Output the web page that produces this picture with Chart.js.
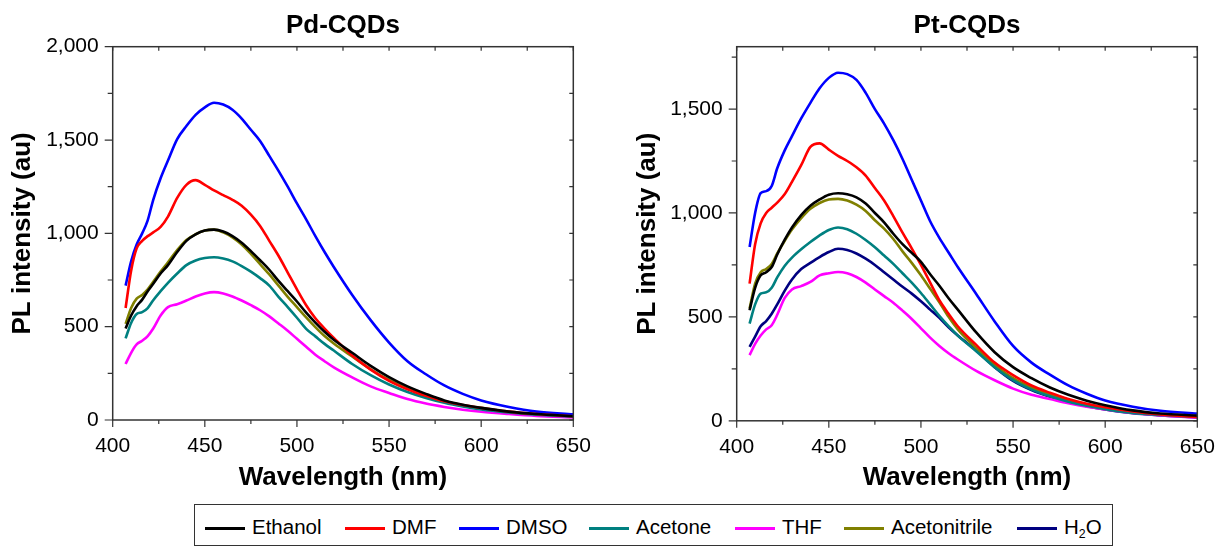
<!DOCTYPE html>
<html>
<head>
<meta charset="utf-8">
<script src="https://cdn.jsdelivr.net/npm/chart.js@4.4.1/dist/chart.umd.min.js"></script>
<style>
  html, body { margin: 0; padding: 0; background: #fff; }
  body { width: 1217px; height: 546px; position: relative; overflow: hidden; font-family: 'Liberation Sans', Arial, sans-serif; }
  #c1 { position: absolute; left: 0; top: 0; }
  #c2 { position: absolute; left: 608px; top: 0; }
  #legend { position: absolute; left: 194px; top: 504px; width: 919px; height: 42px; border: 1.3px solid #333; box-sizing: border-box; }
  .lg-line { position: absolute; height: 3px; width: 40px; }
  .lg-text { position: absolute; font-size: 20.5px; line-height: 1; color: #000; white-space: nowrap; }
  .lg-text sub { font-size: 0.6em; vertical-align: -0.35em; line-height: 0; }
</style>
</head>
<body>
<canvas id="c1" width="600" height="500"></canvas>
<canvas id="c2" width="609" height="500"></canvas>
<div id="legend"></div>
<script>
// ---------- DATA ----------
const wavelengths = [407,410,413,416,419,422,426,430,435,440,445,450,455,460,465,470,475,480,485,490,495,500,505,510,515,520,530,540,550,560,570,580,590,600,615,630,650];

const seriesNames  = ['Ethanol','DMF','DMSO','Acetone','THF','Acetonitrile','H2O'];
const seriesColors = ['#000000','#ff0000','#0000ff','#008080','#ff00ff','#808000','#000080'];

const xTickValues   = [400,450,500,550,600,650];
const pdYTickValues = [0,500,1000,1500,2000];
const ptYTickValues = [0,500,1000,1500];

// Pd-CQDs
const pdEthanol      = [490,560,610,645,690,730,785,830,900,960, 995,1015,1020,1010,985,950,905,856,805,745, 690,635,575,522,473,430,360,290,230,180, 140,105,82,65,45,32,20];
const pdDMF          = [600,800,920,960,985,1005,1035,1090,1190,1260, 1285,1260,1230,1205,1180,1148,1100,1040,960,880, 790,700,615,545,490,440,345,270,210,165, 130,100,80,65,45,32,20];
const pdDMSO         = [720,850,940,1000,1070,1180,1295,1390,1505,1575, 1635,1675,1700,1690,1662,1615,1555,1495,1415,1335, 1250,1160,1075,985,900,820,670,535,415,315, 245,185,140,105,70,45,30];
const pdAcetone      = [437,520,568,578,600,642,690,735,785,830, 855,868,872,865,850,825,795,760,720,660, 605,548,488,448,408,372,300,240,190,150, 118,92,72,56,40,28,18];
const pdTHF          = [300,360,405,425,450,490,560,605,620,640, 662,678,685,678,662,640,615,588,555,517, 478,435,392,350,315,282,228,180,145,112, 88,70,55,44,32,22,14];
const pdAcetonitrile = [515,600,650,670,700,740,795,845,910,965, 995,1015,1020,1005,978,940,890,835,780,720, 660,605,550,498,450,410,340,272,215,168, 130,100,78,60,42,30,20];

// Pt-CQDs
const ptEthanol      = [532,640,700,715,740,800,870,930,990,1035, 1065,1088,1095,1090,1075,1045,1000,955,900,850, 808,765,705,650,590,535,425,330,258,205, 160,125,97,75,50,35,25];
const ptDMF          = [660,850,950,1000,1025,1050,1090,1150,1230,1318, 1335,1305,1275,1250,1220,1180,1120,1060,985,905, 830,750,665,580,515,455,365,280,220,170, 135,105,82,65,45,30,18];
const ptDMSO         = [836,1000,1095,1105,1130,1215,1300,1370,1455,1530, 1600,1650,1675,1668,1640,1578,1500,1430,1350,1260, 1160,1060,960,880,810,740,610,478,360,280, 222,170,130,98,68,48,35];
const ptAcetone      = [468,560,612,618,640,690,745,785,825,860, 892,918,930,922,900,870,835,795,755,710, 665,615,560,505,455,410,335,258,196,150, 118,92,72,56,38,28,18];
const ptTHF          = [316,370,410,440,460,510,590,632,648,668, 700,710,716,710,692,665,632,600,568,530, 490,445,400,360,325,295,240,195,155,125, 105,85,68,55,38,26,16];
const ptAcetonitrile = [540,660,715,730,755,805,865,920,975,1020, 1048,1065,1068,1060,1040,1010,965,925,875,815, 760,700,635,570,500,440,350,270,205,160, 126,98,78,62,42,30,20];
const ptH2O          = [356,405,455,480,515,560,625,680,730,760, 788,812,828,822,805,780,750,715,680,645, 612,575,535,495,450,410,338,258,192,148, 116,90,70,54,36,26,16];

const pdSeries = [pdEthanol, pdDMF, pdDMSO, pdAcetone, pdTHF, pdAcetonitrile];
const ptSeries = [ptEthanol, ptDMF, ptDMSO, ptAcetone, ptTHF, ptAcetonitrile, ptH2O];

// ---------- RENDER ----------
Chart.defaults.font.family = "'Liberation Sans', Arial, sans-serif";
Chart.defaults.color = '#000';

const framePlugin = {
  id: 'frame',
  afterDraw(chart, args, opts) {
    const {ctx, chartArea: a} = chart;
    const x = chart.scales.x, y = chart.scales.y;
    ctx.save();
    ctx.strokeStyle = '#333';
    ctx.lineWidth = 1.5;
    ctx.strokeRect(a.left, a.top, a.right - a.left, a.bottom - a.top);
    ctx.lineWidth = 1.2;
    ctx.beginPath();
    for (let v = x.min; v <= x.max + 1e-6; v += opts.xMinor) {
      const px = x.getPixelForValue(v);
      const major = Math.abs(v % opts.xMajor) < 1e-6;
      ctx.moveTo(px, a.bottom); ctx.lineTo(px, a.bottom + (major ? 7 : 4));
      ctx.moveTo(px, a.top); ctx.lineTo(px, a.top + 4);
    }
    for (let v = y.min; v <= y.max + 1e-6; v += opts.yMinor) {
      const py = y.getPixelForValue(v);
      const major = Math.abs(v % opts.yMajor) < 1e-6;
      ctx.moveTo(a.left - (major ? 8 : 5), py); ctx.lineTo(a.left, py);
      ctx.moveTo(a.right, py); ctx.lineTo(a.right - 4, py);
    }
    ctx.stroke();
    ctx.restore();
  }
};

function fmt(v) { return Number(v).toLocaleString('en-US'); }

function makeChart(canvasId, title, series, yMax, yTicks, geo) {
  const datasets = series.map((arr, i) => ({
    label: seriesNames[i],
    data: wavelengths.map((w, k) => ({x: w, y: arr[k]})),
    borderColor: seriesColors[i],
    backgroundColor: seriesColors[i],
    borderWidth: 2.6,
    pointRadius: 0,
    cubicInterpolationMode: 'monotone',
    fill: false
  }));
  return new Chart(document.getElementById(canvasId), {
    type: 'line',
    data: { datasets },
    plugins: [framePlugin],
    options: {
      responsive: false,
      animation: false,
      events: [],
      layout: { padding: { left: 0, right: geo.padRight, top: 0, bottom: 0 } },
      plugins: {
        legend: { display: false },
        tooltip: { enabled: false },
        title: {
          display: true, text: title, fullSize: false, color: '#000',
          font: { size: 26, weight: 'bold' },
          padding: { top: 10, bottom: 5.5 }
        },
        frame: { xMinor: 25, xMajor: 50, yMinor: 250, yMajor: 500 }
      },
      scales: {
        x: {
          type: 'linear', min: 400, max: 650,
          afterBuildTicks: s => { s.ticks = xTickValues.map(v => ({value: v})); },
          afterFit: s => { s.height = geo.xHeight; },
          grid: { display: false, drawTicks: true, tickLength: 14 },
          border: { display: false },
          ticks: { font: { size: 21 }, padding: 0, color: '#000', maxRotation: 0 },
          title: { display: true, text: 'Wavelength (nm)', color: '#000',
                   font: { size: 26, weight: 'bold' }, padding: { top: 0, bottom: 6.4 } }
        },
        y: {
          type: 'linear', min: 0, max: yMax,
          afterBuildTicks: s => { s.ticks = yTicks.map(v => ({value: v})); },
          afterFit: s => { s.width = geo.yWidth; },
          grid: { display: false, drawTicks: false },
          border: { display: false },
          ticks: { font: { size: 21 }, padding: 14, color: '#000', callback: v => fmt(v) },
          title: { display: true, text: 'PL intensity (au)', color: '#000',
                   font: { size: 26, weight: 'bold' }, padding: { top: geo.yTitlePad, bottom: 0 } }
        }
      }
    }
  });
}

makeChart('c1', 'Pd-CQDs', pdSeries, 2000, pdYTickValues,
  { yWidth: 112.7, padRight: 26.7, xHeight: 80, yTitlePad: 7.4 });
makeChart('c2', 'Pt-CQDs', ptSeries, 1800, ptYTickValues,
  { yWidth: 128.7, padRight: 19.7, xHeight: 79.2, yTitlePad: 24.7 });

// ---------- LEGEND ----------
const legendLineX = [204, 344, 458, 588, 734, 843, 1016];
const legend = document.getElementById('legend');
seriesNames.forEach((name, i) => {
  const line = document.createElement('span');
  line.className = 'lg-line';
  line.style.background = seriesColors[i];
  line.style.left = (legendLineX[i] - 194) + 'px';
  line.style.top = (526 - 504) + 'px';
  legend.appendChild(line);
  const txt = document.createElement('span');
  txt.className = 'lg-text';
  txt.style.left = (legendLineX[i] + 47 - 194) + 'px';
  txt.style.top = (516 - 504) + 'px';
  if (name === 'H2O') { txt.innerHTML = 'H<sub>2</sub>O'; } else { txt.textContent = name; }
  legend.appendChild(txt);
});
</script>
</body>
</html>
